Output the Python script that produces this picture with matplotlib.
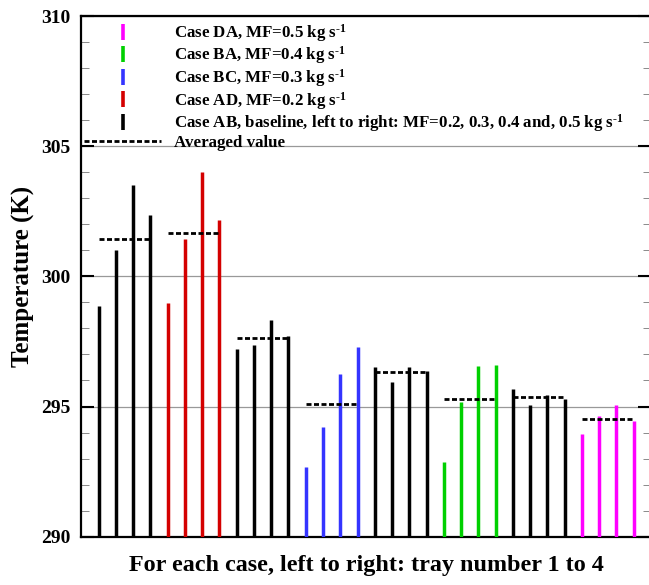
import matplotlib
matplotlib.use("Agg")
import matplotlib.pyplot as plt
from matplotlib.lines import Line2D
import numpy as np

plt.rcParams["font.family"] = "Liberation Serif"
plt.rcParams["font.weight"] = "bold"
plt.rcParams["axes.labelweight"] = "bold"
plt.rcParams["mathtext.fontset"] = "custom"
plt.rcParams["mathtext.rm"] = "Liberation Serif:bold"
plt.rcParams["mathtext.default"] = "rm"

# ==================================================
# Data: tray temperatures (K), trays 1-4 for each case
# ==================================================
case_names = ["AB (0.2)", "AD", "AB (0.3)", "BC", "AB (0.4)", "BA", "AB (0.5)", "DA"]
case_colors = ["black", "#d40000", "black", "#3434ff", "black", "#00d000", "black", "#ff00ff"]
tray_temps = [
    [298.88, 301.00, 303.52, 302.37],
    [298.99, 301.44, 304.00, 302.17],
    [297.22, 297.35, 298.33, 297.69],
    [292.68, 294.23, 296.25, 297.30],
    [296.52, 295.95, 296.53, 296.37],
    [292.85, 295.17, 296.55, 296.58],
    [295.67, 295.04, 295.44, 295.27],
    [293.95, 294.63, 295.04, 294.45],
]

legend_labels = [
    r"Case DA, MF=0.5 kg s$^{\text{-}1}$",
    r"Case BA, MF=0.4 kg s$^{\text{-}1}$",
    r"Case BC, MF=0.3 kg s$^{\text{-}1}$",
    r"Case AD, MF=0.2 kg s$^{\text{-}1}$",
    r"Case AB, baseline, left to right: MF=0.2, 0.3, 0.4 and, 0.5 kg s$^{\text{-}1}$",
]
legend_colors = ["#ff00ff", "#00d000", "#3434ff", "#d40000", "black"]
avg_label = "Averaged value"

# ==================================================
# Plot
# ==================================================
fig = plt.figure(figsize=(6.49, 5.85), dpi=100)
ax = fig.add_axes([0.1253, 0.0826, 0.8778, 0.89])

ymin = 290
for k, (temps, col) in enumerate(zip(tray_temps, case_colors)):
    x = np.arange(4) + 1 + 4 * k
    ax.vlines(x, ymin, temps, colors=col, lw=2.5, zorder=3)
    ax.plot([x[0], x[-1]], [np.mean(temps)] * 2, color="black", lw=2.0,
            dashes=(1.8, 0.9), zorder=4)

ax.set_xlim(0, 33)
ax.set_ylim(290, 310)
ax.set_xticks([])
ax.set_yticks(np.arange(290, 311, 5))
ax.set_yticks(np.arange(290, 311, 1), minor=True)
ax.tick_params(axis="y", which="major", direction="in", length=9.5, width=1.5,
               labelsize=14, pad=8, right=True)
ax.tick_params(axis="y", which="minor", direction="in", length=5.5, width=0.6,
               color="#777777", right=True)
ax.grid(axis="y", which="major", color="#999999", lw=0.9, zorder=0)
for side in ["left", "bottom", "top"]:
    ax.spines[side].set_linewidth(1.6)
ax.spines["right"].set_visible(False)

ax.set_ylabel("Temperature (K)", fontsize=18)
ax.yaxis.set_label_coords(-0.082, 0.5)
ax.set_xlabel("For each case, left to right: tray number 1 to 4", fontsize=17.4, labelpad=13)

# legend: case markers, then the averaged-value row in its own legend
leg_kw = dict(frameon=False, fontsize=12.2, handlelength=4.55, handletextpad=0.77,
              borderaxespad=0.15, borderpad=0.2)
handles = [Line2D([], [], color=c, marker="|", linestyle="None", markersize=12,
                  markeredgewidth=2.6) for c in legend_colors]
leg1 = ax.legend(handles, legend_labels, loc="upper left", bbox_to_anchor=(-0.0055, 1.0),
                 labelspacing=0.04, **leg_kw)
ax.add_artist(leg1)
avg_handle = Line2D([], [], color="black", lw=2.0, dashes=(1.8, 0.9))
ax.legend([avg_handle], [avg_label], loc="center left", bbox_to_anchor=(-0.0055, 0.757),
          **leg_kw)

fig.savefig("out.png", dpi=100)
